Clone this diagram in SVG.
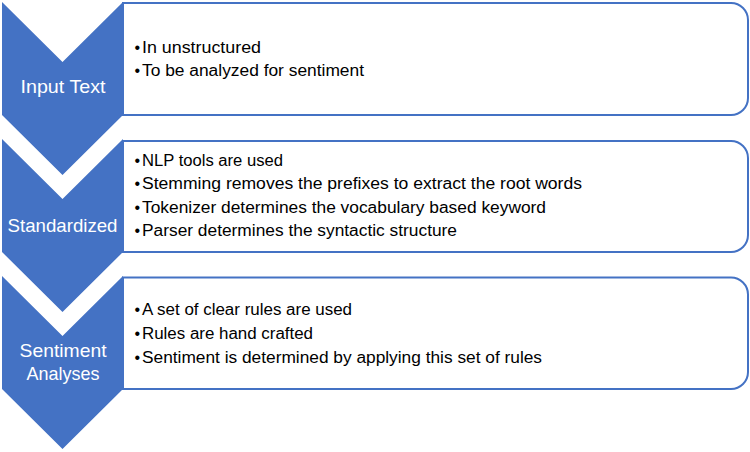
<svg xmlns="http://www.w3.org/2000/svg" width="750" height="452" viewBox="0 0 750 452">
<style>
.box{fill:#ffffff;stroke:#4472C4;stroke-width:2}
.chev{fill:#4472C4;stroke:none}
.lbl{font-family:"Liberation Sans",Arial,sans-serif;font-size:19px;fill:#ffffff;text-anchor:middle}
.txt{font-family:"Liberation Sans",Arial,sans-serif;font-size:16px;fill:#000000}
</style>
<rect x="0" y="0" width="750" height="452" fill="#ffffff"/>
<g id="node-input-text">
<path class="box" d="M123,3 H731 A17,17 0 0 1 748,20 V98 A17,17 0 0 1 731,115 H123 Z"/>
<path class="chev" d="M2,2 L62.5,62 L123,2 L123,115 L62.5,175 L2,115 Z"/>
<text class="lbl" x="63" y="93" textLength="85" lengthAdjust="spacingAndGlyphs">Input Text</text>
<text class="txt" x="134.5" y="52.5">•</text>
<text class="txt" x="142" y="52.5" textLength="119" lengthAdjust="spacingAndGlyphs">In unstructured</text>
<text class="txt" x="134.5" y="76">•</text>
<text class="txt" x="142" y="76" textLength="222" lengthAdjust="spacingAndGlyphs">To be analyzed for sentiment</text>
</g>
<g id="node-standardized">
<path class="box" d="M123,141 H731 A17,17 0 0 1 748,158 V235 A17,17 0 0 1 731,252 H123 Z"/>
<path class="chev" d="M2,139 L62.5,199 L123,139 L123,252 L62.5,312 L2,252 Z"/>
<text class="lbl" x="62.5" y="231.5" textLength="110" lengthAdjust="spacingAndGlyphs">Standardized</text>
<text class="txt" x="134.5" y="165.5">•</text>
<text class="txt" x="142" y="165.5" textLength="141" lengthAdjust="spacingAndGlyphs">NLP tools are used</text>
<text class="txt" x="134.5" y="189.3">•</text>
<text class="txt" x="142" y="189.3" textLength="440" lengthAdjust="spacingAndGlyphs">Stemming removes the prefixes to extract the root words</text>
<text class="txt" x="134.5" y="212.8">•</text>
<text class="txt" x="142" y="212.8" textLength="404" lengthAdjust="spacingAndGlyphs">Tokenizer determines the vocabulary based keyword</text>
<text class="txt" x="134.5" y="236.3">•</text>
<text class="txt" x="142" y="236.3" textLength="315" lengthAdjust="spacingAndGlyphs">Parser determines the syntactic structure</text>
</g>
<g id="node-sentiment-analyses">
<path class="box" d="M123,277.5 H731 A17,17 0 0 1 748,294.5 V372 A17,17 0 0 1 731,389 H123 Z"/>
<path class="chev" d="M2,276 L62.5,336 L123,276 L123,389 L62.5,449 L2,389 Z"/>
<text class="lbl" x="63" y="357.3" textLength="87" lengthAdjust="spacingAndGlyphs">Sentiment</text>
<text class="lbl" x="63" y="380" textLength="73" lengthAdjust="spacingAndGlyphs">Analyses</text>
<text class="txt" x="134.5" y="315">•</text>
<text class="txt" x="142" y="315" textLength="210" lengthAdjust="spacingAndGlyphs">A set of clear rules are used</text>
<text class="txt" x="134.5" y="339">•</text>
<text class="txt" x="142" y="339" textLength="171" lengthAdjust="spacingAndGlyphs">Rules are hand crafted</text>
<text class="txt" x="134.5" y="362.7">•</text>
<text class="txt" x="142" y="362.7" textLength="400" lengthAdjust="spacingAndGlyphs">Sentiment is determined by applying this set of rules</text>
</g>
<g id="connectors"></g>
</svg>
